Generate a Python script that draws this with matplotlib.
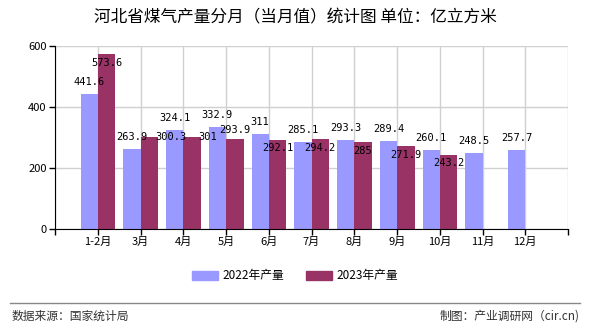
import matplotlib
matplotlib.use("Agg")
import matplotlib.pyplot as plt
from matplotlib.patches import Rectangle
from matplotlib.lines import Line2D
import numpy as np

plt.rcParams['font.family'] = ['Noto Sans CJK SC', 'DejaVu Sans']

categories = ["1-2月", "3月", "4月", "5月", "6月", "7月", "8月", "9月", "10月", "11月", "12月"]
prod_2022 = [441.6, 263.9, 324.1, 332.9, 311, 285.1, 293.3, 289.4, 260.1, 248.5, 257.7]
prod_2023 = [573.6, 300.3, 301, 293.9, 292.1, 294.2, 285, 271.9, 243.2]
series_names = ["2022年产量", "2023年产量"]
yticks = [0, 200, 400, 600]
title = "河北省煤气产量分月（当月值）统计图 单位：亿立方米"
source_left = "数据来源：国家统计局"
source_right = "制图：产业调研网（cir.cn)"

c2022 = "#9999FF"
c2023 = "#993366"

# label pixel nudges for 2023 values (dx, dy) — default is below bar top
nudge_2023 = {1: (22, 0), 2: (16, 0), 3: (0, 9.5)}

fig = plt.figure(figsize=(5.9, 3.3), dpi=100)
ax = fig.add_axes([55/590, 1-229/330, (568-55)/590, (229-46)/330])

x22 = np.arange(len(prod_2022))
x23 = np.arange(len(prod_2023))
w = 0.41
ax.bar(x22, prod_2022, width=-0.40, align='edge', color=c2022, zorder=2)
ax.bar(x23, prod_2023, width=w, align='edge', color=c2023, zorder=2)

lab_font = dict(family='DejaVu Sans Mono', fontsize=7.5, color='black')
for xi, v in zip(x22, prod_2022):
    ax.annotate(f"{v:g}", (xi - 0.20, v), xytext=(0, 12), textcoords='offset pixels',
                ha='center', va='center', zorder=4, **lab_font)
for xi, v in zip(x23, prod_2023):
    dx, dy = nudge_2023.get(int(xi), (0, -8.5))
    ax.annotate(f"{v:g}", (xi + w/2, v), xytext=(dx, dy), textcoords='offset pixels',
                ha='center', va='center', zorder=4, **lab_font)

ax.set_xlim(-1, 11)
ax.set_ylim(0, 600)
ax.set_yticks(yticks)
ax.set_yticklabels([str(t) for t in yticks], fontsize=8)
ax.set_xticks(np.arange(-1, 12))
ax.set_xticklabels([""] + categories + [""], fontsize=8)

ax.grid(True, color='#d0d0d0', linewidth=1, zorder=0)
ax.set_axisbelow(True)
for s in ['top', 'right']:
    ax.spines[s].set_visible(False)
ax.spines['left'].set_color('black')
ax.spines['bottom'].set_color('black')
ax.spines['left'].set_zorder(5)
ax.spines['bottom'].set_zorder(5)
ax.tick_params(axis='both', direction='out', length=4, width=1, color='black', pad=2)

fig.text(0.5, 1-18/330, title, ha='center', va='center', fontsize=12, fontweight='normal')

handles = [Rectangle((0, 0), 1, 1, color=c2022), Rectangle((0, 0), 1, 1, color=c2023)]
fig.legend(handles, series_names, loc='center', bbox_to_anchor=(0.5, 1-276/330),
           ncol=2, frameon=False, fontsize=8.5, handlelength=2.2, handleheight=0.9,
           columnspacing=1.8, handletextpad=0.4)

fig.add_artist(Line2D([10/590, 580/590], [1-303/330, 1-303/330], color='#888888', linewidth=1))
fig.text(12/590, 1-316/330, source_left, ha='left', va='center', fontsize=8.5, color='#333333')
fig.text(580/590, 1-316/330, source_right, ha='right', va='center', fontsize=8.5, color='#333333')

fig.savefig("out.png", dpi=100)
